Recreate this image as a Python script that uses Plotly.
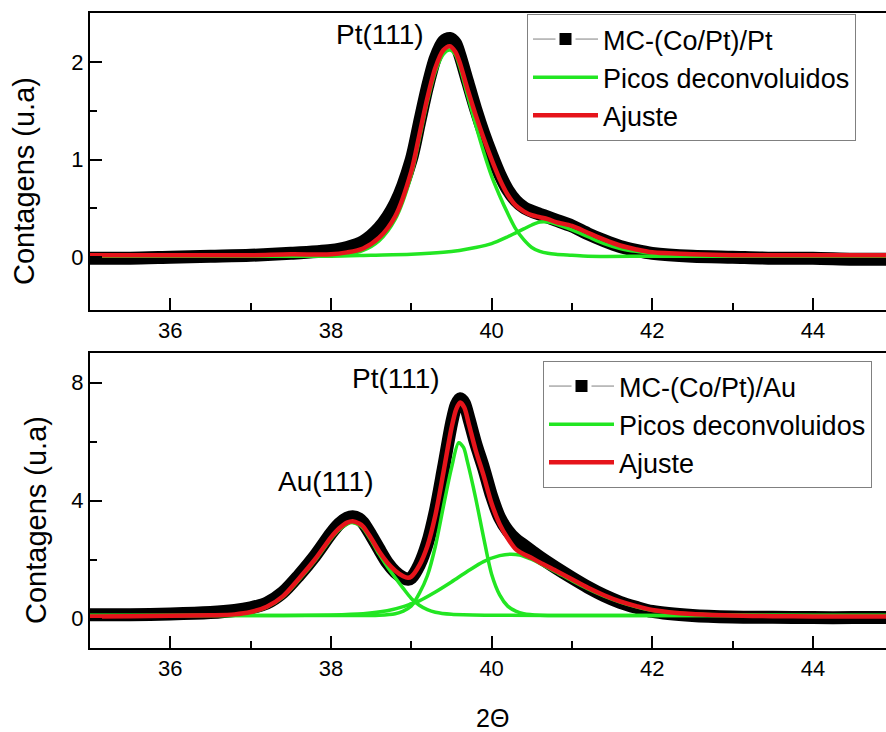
import plotly.graph_objects as go
from plotly.subplots import make_subplots

# ---------------- Upper panel: MC-(Co/Pt)/Pt ----------------
top_x = [35.0, 35.5, 36.0, 36.5, 37.0, 37.5, 38.0, 38.2, 38.4, 38.6, 38.8, 39.0, 39.1,
         39.2, 39.3, 39.4, 39.48, 39.55, 39.6, 39.7, 39.8, 39.9, 40.0, 40.1, 40.2, 40.3,
         40.4, 40.5, 40.6, 40.7, 40.8, 41.0, 41.2, 41.4, 41.6, 41.8, 42.0, 42.5, 43.0,
         43.5, 44.0, 44.5, 45.0]
top_data = [-0.01, -0.01, 0.0, 0.01, 0.02, 0.04, 0.07, 0.10, 0.16, 0.30, 0.55, 1.00, 1.37,
            1.74, 2.04, 2.21, 2.24, 2.19, 2.08, 1.80, 1.52, 1.27, 1.05, 0.85, 0.69, 0.58,
            0.51, 0.47, 0.44, 0.41, 0.38, 0.32, 0.24, 0.17, 0.11, 0.07, 0.04, 0.01, 0.0,
            -0.01, -0.01, -0.02, -0.02]
top_fit = [0.02, 0.02, 0.02, 0.02, 0.02, 0.03, 0.03, 0.05, 0.09, 0.20, 0.42, 0.88, 1.25,
           1.63, 1.94, 2.12, 2.16, 2.10, 2.00, 1.72, 1.46, 1.22, 1.00, 0.80, 0.64, 0.53,
           0.47, 0.43, 0.41, 0.39, 0.36, 0.32, 0.25, 0.18, 0.12, 0.08, 0.05, 0.03, 0.02,
           0.02, 0.02, 0.02, 0.02]

top_pk1_x = [35.0, 36.0, 37.0, 37.5, 38.0, 38.2, 38.4, 38.6, 38.8, 39.0, 39.1, 39.2, 39.3,
             39.4, 39.48, 39.55, 39.6, 39.7, 39.8, 39.9, 40.0, 40.1, 40.2, 40.3, 40.4, 40.5,
             40.6, 40.7, 40.8, 41.0, 41.2, 42.0, 43.0, 45.0]
top_pk1 = [0.01, 0.01, 0.01, 0.01, 0.02, 0.03, 0.07, 0.17, 0.39, 0.84, 1.21, 1.59, 1.90,
           2.08, 2.12, 2.07, 1.96, 1.66, 1.36, 1.08, 0.83, 0.63, 0.45, 0.29, 0.18, 0.10,
           0.06, 0.04, 0.03, 0.02, 0.01, 0.01, 0.01, 0.01]

top_pk2_x = [35.0, 37.0, 38.0, 38.5, 39.0, 39.4, 39.6, 39.8, 40.0, 40.2, 40.3, 40.4, 40.5,
             40.6, 40.7, 40.8, 41.0, 41.2, 41.4, 41.6, 41.8, 42.0, 42.5, 43.0, 45.0]
top_pk2 = [0.01, 0.01, 0.01, 0.02, 0.03, 0.05, 0.07, 0.10, 0.14, 0.21, 0.25, 0.29, 0.33,
           0.36, 0.36, 0.34, 0.28, 0.21, 0.14, 0.09, 0.06, 0.04, 0.02, 0.01, 0.01]

# ---------------- Lower panel: MC-(Co/Pt)/Au ----------------
bot_x = [35.0, 35.5, 36.0, 36.5, 36.8, 37.0, 37.2, 37.4, 37.6, 37.8, 38.0, 38.1, 38.2,
         38.27, 38.35, 38.4, 38.5, 38.6, 38.7, 38.8, 38.9, 38.96, 39.0, 39.1, 39.2, 39.3,
         39.4, 39.5, 39.56, 39.61, 39.66, 39.72, 39.8, 39.9, 40.0, 40.1, 40.2, 40.3, 40.4,
         40.5, 40.6, 40.8, 41.0, 41.2, 41.4, 41.6, 41.8, 42.0, 42.5, 43.0, 43.5, 44.0,
         44.5, 45.0]
bot_data = [0.13, 0.13, 0.15, 0.20, 0.27, 0.36, 0.52, 0.88, 1.46, 2.12, 2.88, 3.20, 3.40,
            3.45, 3.38, 3.25, 2.82, 2.35, 1.90, 1.58, 1.38, 1.33, 1.38, 1.82, 2.55, 3.65,
            5.10, 6.60, 7.25, 7.45, 7.30, 6.75, 5.95, 5.10, 4.15, 3.42, 2.98, 2.68, 2.48,
            2.28, 2.08, 1.72, 1.38, 1.06, 0.78, 0.55, 0.38, 0.24, 0.10, 0.05, 0.04, 0.03,
            0.03, 0.03]
bot_fit = [0.07, 0.08, 0.09, 0.11, 0.14, 0.22, 0.40, 0.75, 1.35, 2.00, 2.75, 3.05, 3.25,
           3.30, 3.22, 3.12, 2.72, 2.27, 1.90, 1.62, 1.43, 1.38, 1.42, 1.80, 2.45, 3.50,
           4.95, 6.45, 7.10, 7.32, 7.15, 6.55, 5.72, 4.85, 3.90, 3.20, 2.72, 2.35, 2.18,
           2.05, 1.90, 1.62, 1.33, 1.04, 0.79, 0.58, 0.42, 0.29, 0.15, 0.10, 0.08, 0.07,
           0.07, 0.07]

bot_au_x = [35.0, 36.0, 36.5, 36.8, 37.0, 37.2, 37.4, 37.6, 37.8, 38.0, 38.1, 38.2, 38.27,
            38.35, 38.4, 38.5, 38.6, 38.7, 38.8, 38.9, 39.0, 39.1, 39.2, 39.3, 39.5, 40.0,
            41.0, 45.0]
bot_au = [0.10, 0.10, 0.11, 0.13, 0.20, 0.38, 0.72, 1.30, 1.95, 2.70, 3.00, 3.20, 3.25,
          3.17, 3.06, 2.65, 2.18, 1.76, 1.38, 1.02, 0.68, 0.45, 0.30, 0.21, 0.14, 0.11,
          0.10, 0.10]

bot_pt_x = [35.0, 38.0, 38.6, 38.8, 38.9, 39.0, 39.1, 39.2, 39.3, 39.4, 39.5, 39.59, 39.65,
            39.7, 39.8, 39.9, 40.0, 40.1, 40.2, 40.3, 40.4, 40.6, 41.0, 45.0]
bot_pt = [0.10, 0.10, 0.11, 0.16, 0.25, 0.42, 0.85, 1.45, 2.45, 3.80, 5.10, 5.96, 5.80,
          5.30, 4.10, 2.75, 1.50, 0.80, 0.42, 0.25, 0.16, 0.11, 0.10, 0.10]

bot_br_x = [35.0, 37.0, 38.0, 38.4, 38.7, 38.9, 39.0, 39.1, 39.3, 39.5, 39.7, 39.9, 40.1,
            40.23, 40.35, 40.5, 40.6, 40.8, 41.0, 41.2, 41.4, 41.6, 41.8, 42.0, 42.3, 42.6,
            43.0, 44.0, 45.0]
bot_br = [0.10, 0.10, 0.12, 0.16, 0.26, 0.40, 0.50, 0.60, 0.90, 1.24, 1.60, 1.93, 2.13,
          2.18, 2.15, 2.00, 1.87, 1.58, 1.28, 1.00, 0.76, 0.56, 0.40, 0.28, 0.19, 0.14,
          0.12, 0.10, 0.10]

X_TICKS = [36, 38, 40, 42, 44]
X_MINOR = [37, 39, 41, 43]
TOP_Y_TICKS = [0, 1, 2]
TOP_Y_MINOR = [0.5, 1.5]
BOT_Y_TICKS = [0, 4, 8]
BOT_Y_MINOR = [2, 6]

FONT = "Arial, Liberation Sans, sans-serif"
GREEN = "#22e622"
RED = "#e6141b"

fig = make_subplots(rows=2, cols=1, vertical_spacing=0.0)


def add_panel(row, legend, name, data_x, data_y, peaks, fit_x, fit_y):
    # measured pattern: thick black band of points
    fig.add_trace(go.Scatter(x=data_x, y=data_y, mode="lines", showlegend=False,
                             line=dict(color="black", width=13, shape="spline", smoothing=0.8),
                             legend=legend, hoverinfo="skip"), row=row, col=1)
    # legend entry for the measured pattern (line + square symbol with a clear gap)
    fig.add_trace(go.Scatter(x=[None], y=[None], mode="lines+markers", name=name,
                             line=dict(color="#808080", width=1),
                             marker=dict(symbol="square", size=16, color="black",
                                         line=dict(color="white", width=4)),
                             legend=legend), row=row, col=1)
    for i, (px, py) in enumerate(peaks):
        fig.add_trace(go.Scatter(x=px, y=py, mode="lines", name="Picos deconvoluidos",
                                 showlegend=(i == 0), legend=legend,
                                 line=dict(color=GREEN, width=3.5, shape="spline", smoothing=0.8)),
                      row=row, col=1)
    fig.add_trace(go.Scatter(x=fit_x, y=fit_y, mode="lines", name="Ajuste", legend=legend,
                             line=dict(color=RED, width=4.5, shape="spline", smoothing=0.8)),
                  row=row, col=1)


add_panel(1, "legend", "MC-(Co/Pt)/Pt", top_x, top_data,
          [(top_pk1_x, top_pk1), (top_pk2_x, top_pk2)], top_x, top_fit)
add_panel(2, "legend2", "MC-(Co/Pt)/Au", bot_x, bot_data,
          [(bot_au_x, bot_au), (bot_pt_x, bot_pt), (bot_br_x, bot_br)], bot_x, bot_fit)

H_TOP, H_BOT = 13, 84
PLOT_H = 732 - H_TOP - H_BOT
top_dom = [(648 - 310) / PLOT_H, 1.0]
bot_dom = [0.0, (648 - 353) / PLOT_H]

x_common = dict(range=[35, 44.91], showline=True, linewidth=2, linecolor="black",
                mirror=True, ticks="inside", ticklen=12, tickwidth=2, tickcolor="black",
                tickvals=X_TICKS, showgrid=False, zeroline=False,
                tickfont=dict(size=22, family=FONT, color="black"),
                minor=dict(tickvals=X_MINOR, ticks="inside", ticklen=7, tickwidth=2,
                           tickcolor="black", showgrid=False))
y_common = dict(showline=True, linewidth=2, linecolor="black", mirror=False,
                ticks="inside", ticklen=12, tickwidth=2, tickcolor="black",
                showgrid=False, zeroline=False,
                tickfont=dict(size=22, family=FONT, color="black"))

fig.update_xaxes(**x_common, row=1, col=1)
fig.update_xaxes(**x_common, row=2, col=1)
fig.update_yaxes(**y_common, range=[-0.54, 2.5], tickvals=TOP_Y_TICKS, domain=top_dom,
                 minor=dict(tickvals=TOP_Y_MINOR, ticks="inside", ticklen=7, tickwidth=2,
                            tickcolor="black", showgrid=False), row=1, col=1)
fig.update_yaxes(**y_common, range=[-1, 9], tickvals=BOT_Y_TICKS, domain=bot_dom,
                 minor=dict(tickvals=BOT_Y_MINOR, ticks="inside", ticklen=7, tickwidth=2,
                            tickcolor="black", showgrid=False), row=2, col=1)

legend_common = dict(xanchor="left", yanchor="top", bgcolor="white", bordercolor="#808080",
                     borderwidth=1, font=dict(size=27, family=FONT, color="black"),
                     itemwidth=65, tracegroupgap=0)

fig.update_layout(
    width=886, height=732,
    margin=dict(l=90, r=0, t=H_TOP, b=H_BOT),
    paper_bgcolor="white", plot_bgcolor="white",
    font=dict(family=FONT, color="black"),
    legend=dict(**legend_common, x=(527 - 90) / 796, y=(648 - 14) / PLOT_H),
    legend2=dict(**legend_common, x=(543 - 90) / 796, y=(648 - 361) / PLOT_H),
)

label_font = dict(size=28, family=FONT, color="black")
fig.add_annotation(x=38.61, y=2.28, xref="x", yref="y", text="Pt(111)", showarrow=False,
                   font=label_font)
fig.add_annotation(x=38.81, y=8.13, xref="x2", yref="y2", text="Pt(111)", showarrow=False,
                   font=label_font)
fig.add_annotation(x=37.93, y=4.66, xref="x2", yref="y2", text="Au(111)", showarrow=False,
                   font=label_font)

title_font = dict(size=29, family=FONT, color="black")
fig.add_annotation(x=(24 - 90) / 796, y=(648 - 181) / PLOT_H, xref="paper", yref="paper",
                   text="Contagens (u.a)", textangle=-90, showarrow=False, font=title_font,
                   xanchor="center", yanchor="middle")
fig.add_annotation(x=(36 - 90) / 796, y=(648 - 520) / PLOT_H, xref="paper", yref="paper",
                   text="Contagens (u.a)", textangle=-90, showarrow=False, font=title_font,
                   xanchor="center", yanchor="middle")
fig.add_annotation(x=(492 - 90) / 796, y=(648 - 718) / PLOT_H, xref="paper", yref="paper",
                   text="2\u0398", showarrow=False, font=dict(size=25, family=FONT, color="black"),
                   xanchor="center", yanchor="middle")

fig.write_html("out.html")
